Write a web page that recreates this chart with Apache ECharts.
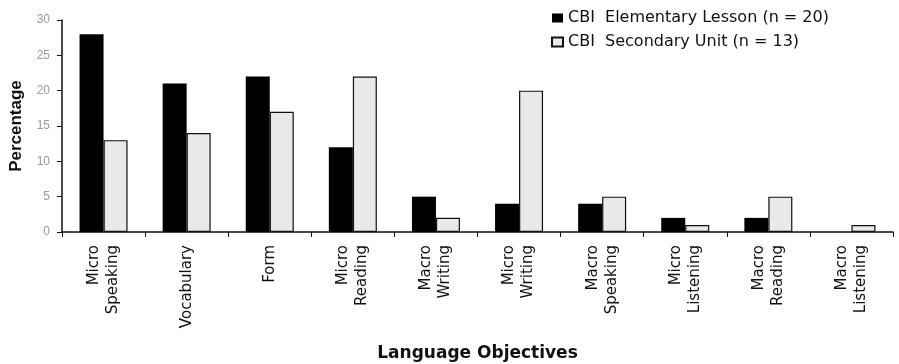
<!DOCTYPE html>
<html>
<head>
<meta charset="utf-8">
<script src="https://cdn.jsdelivr.net/npm/echarts@6/dist/echarts.min.js"></script>
<style>
  html, body { margin: 0; padding: 0; background: #fff; }
  #chart { width: 899px; height: 364px; }
</style>
</head>
<body>
<div id="chart"></div>
<script>
// categories and values
var categories = ['Micro\nSpeaking', 'Vocabulary', 'Form', 'Micro\nReading', 'Macro\nWriting',
    'Micro\nWriting', 'Macro\nSpeaking', 'Micro\nListening', 'Macro\nReading', 'Macro\nListening'];
var elementary = [28, 21, 22, 12, 5, 4, 4, 2, 2, 0];
var secondary = [13, 14, 17, 22, 2, 20, 5, 1, 5, 1];
var yTicks = [0, 5, 10, 15, 20, 25, 30];

var font = 'Liberation Sans, Arial, sans-serif';
var wide = 'DejaVu Sans, sans-serif';
var chart = echarts.init(document.getElementById('chart'));

chart.setOption({
    animation: false,
    legend: {
        orient: 'vertical',
        left: 546,
        top: 5,
        itemGap: 8,
        itemWidth: 11,
        itemHeight: 9,
        icon: 'rect',
        textStyle: { fontFamily: wide, fontSize: 16, color: '#111' },
        data: ['CBI  Elementary Lesson (n = 20)', 'CBI  Secondary Unit (n = 13)']
    },
    grid: { left: 62, right: 6, top: 20, bottom: 132, containLabel: false, outerBoundsMode: 'none' },
    xAxis: {
        type: 'category',
        data: categories,
        name: 'Language Objectives',
        nameLocation: 'middle',
        nameGap: 113,
        nameTextStyle: { fontFamily: wide, fontSize: 17, fontWeight: 'bold', color: '#111' },
        axisLine: { lineStyle: { color: '#111', width: 1.5 } },
        axisTick: { show: true, length: 5, lineStyle: { color: '#111' } },
        axisLabel: {
            rotate: 90,
            margin: 13,
            interval: 0,
            fontFamily: wide,
            fontSize: 15,
            lineHeight: 19,
            color: '#111'
        }
    },
    yAxis: {
        type: 'value',
        min: 0,
        max: 30,
        interval: 5,
        name: 'Percentage',
        nameLocation: 'middle',
        nameGap: 37,
        nameTextStyle: { fontFamily: font, fontSize: 17, fontWeight: 'bold', color: '#111' },
        axisLine: { show: true, lineStyle: { color: '#111', width: 1.5 } },
        axisTick: { show: true, length: 5, lineStyle: { color: '#111' } },
        axisLabel: {
            margin: 12,
            fontFamily: font,
            fontSize: 12,
            color: '#999',
            formatter: function (v) { return yTicks.indexOf(v) >= 0 ? v : ''; }
        },
        splitLine: { show: false }
    },
    series: [
        {
            name: 'CBI  Elementary Lesson (n = 20)',
            type: 'bar',
            data: elementary,
            barWidth: 24,
            barGap: '0%',
            itemStyle: { color: '#000', borderWidth: 0 }
        },
        {
            name: 'CBI  Secondary Unit (n = 13)',
            type: 'bar',
            data: secondary,
            barWidth: 24,
            itemStyle: { color: '#e9e9e9', borderColor: '#111', borderWidth: 1.2 }
        }
    ]
});
</script>
</body>
</html>
